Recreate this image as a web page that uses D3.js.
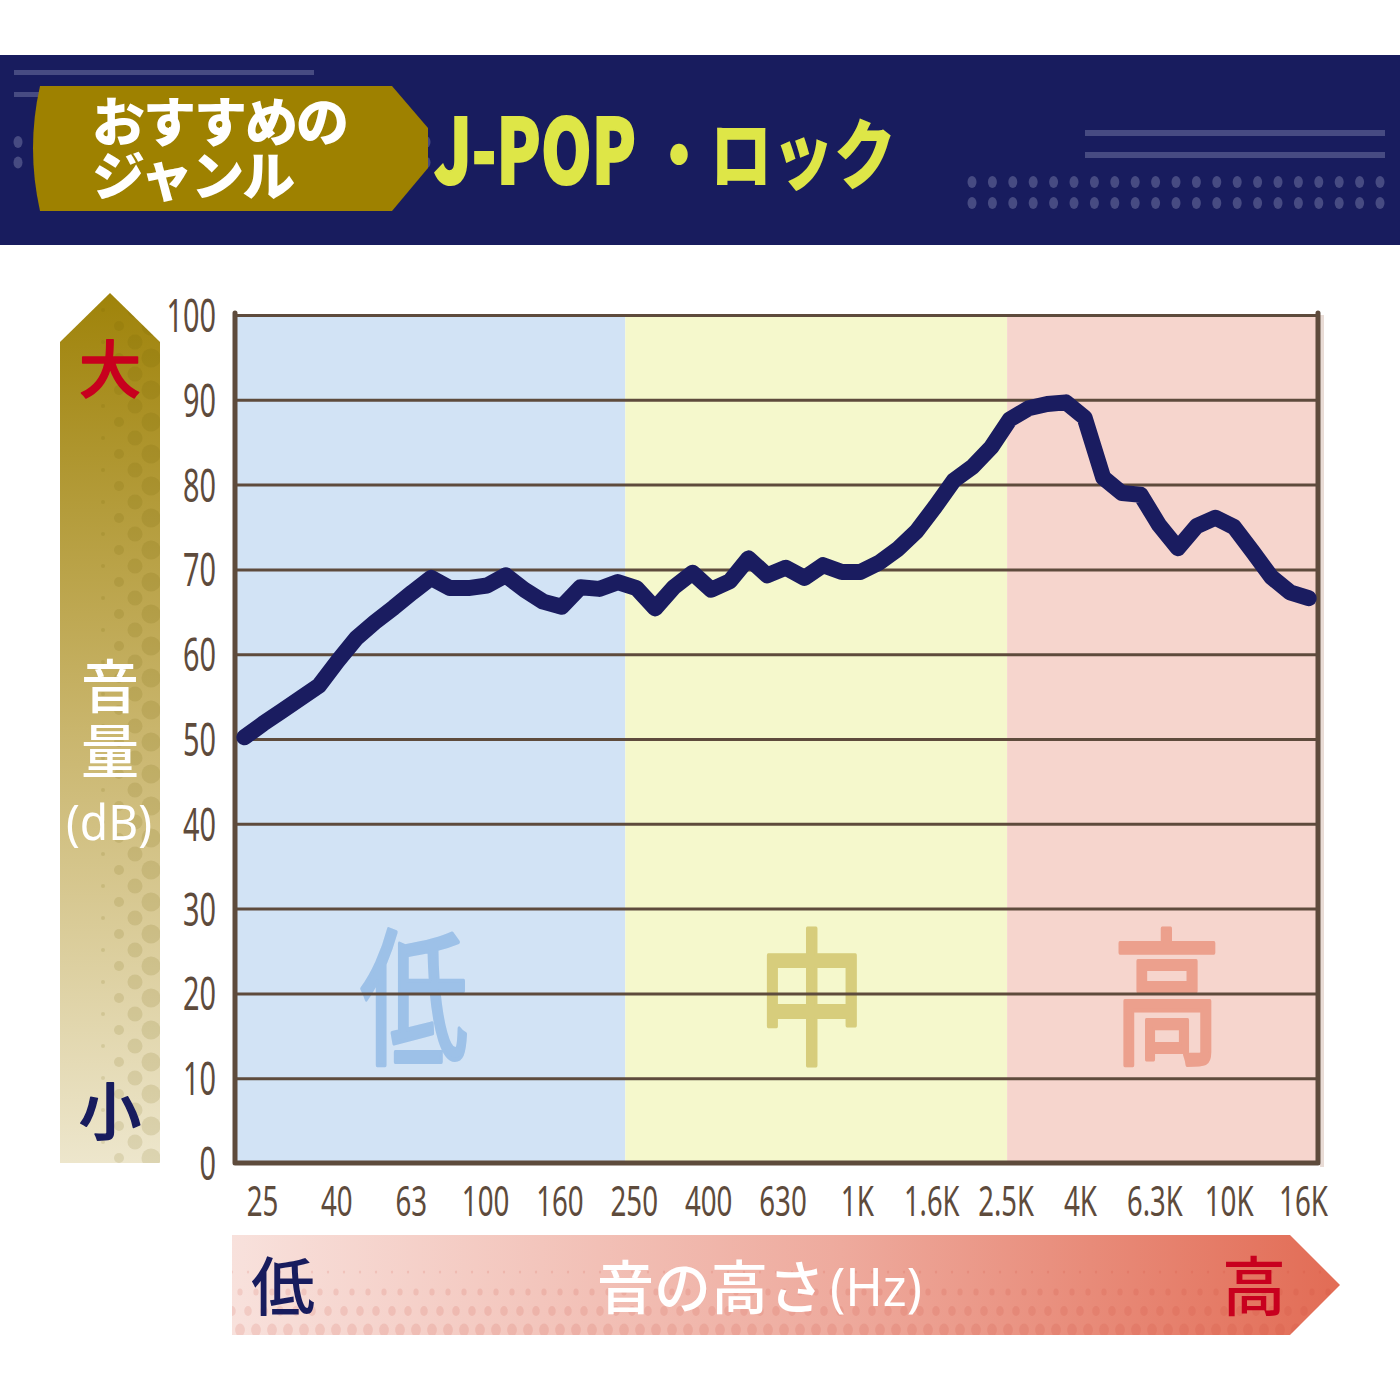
<html>
<head>
<meta charset="utf-8">
<script src="https://cdn.jsdelivr.net/npm/d3@7/dist/d3.min.js"></script>
<style>
body {
	margin: 0;
	background: #fff;
}
svg text {
	font-family: "Noto Sans CJK JP", sans-serif;
}
.num {
	font-family: "Noto Sans", "DejaVu Sans", sans-serif;
}
</style>
</head>
<body>
<svg id="chart" width="1400" height="1400"></svg>
<script>

// データ
var yTicks = [0, 10, 20, 30, 40, 50, 60, 70, 80, 90, 100];
var xLabels = ["25","40","63","100","160","250","400","630","1K","1.6K","2.5K","4K","6.3K","10K","16K"];
// 1/6オクターブごとの音量(dB)
var dbValues = [50.2, 51.8, 53.3, 54.8, 56.3, 59.2, 61.9, 63.8, 65.5, 67.3,
                69.0, 67.8, 67.8, 68.1, 69.3, 67.6, 66.2, 65.6, 67.9, 67.7,
                68.5, 67.8, 65.4, 67.9, 69.6, 67.6, 68.6, 71.3, 69.3, 70.2,
                69.0, 70.5, 69.7, 69.7, 70.8, 72.4, 74.5, 77.4, 80.5, 82.1,
                84.4, 87.7, 89.0, 89.5, 89.7, 87.9, 80.8, 79.0, 78.8, 75.2,
                72.5, 75.1, 76.1, 75.0, 72.1, 69.1, 67.3, 66.6];
var bandNames = ["低", "中", "高"];
var bandBreaks = [-0.5, 20.4, 40.85, 57.5];  // 帯域の境目(データ番号)

var svg = d3.select("#chart");
var plot = {left: 235, right: 1318, top: 315, bottom: 1163};
var brown = "#5e4b3c";
var navy = "#181c5e";

var x = d3.scaleLinear()
    .domain([-0.5, dbValues.length - 0.5])
    .range([plot.left, plot.right]);
var y = d3.scaleLinear()
    .domain([0, 100])
    .range([plot.bottom, plot.top]);
var xl = d3.scalePoint()
    .domain(xLabels)
    .range([262, 1303]);

var defs = svg.append("defs");

// 細い数字の幅
function narrowWidth(s){
    var w = 0;
    for(let c of s){
        if(c == ".") w += 7;
        else if(c == "K") w += 18;
        else w += 16.5;
    }
    return w;
}

drawHeader();
drawGauge();
drawPlot();
drawBottomArrow();

function drawHeader(){
    svg.append("rect")
        .attr("x", 0).attr("y", 55)
        .attr("width", 1400).attr("height", 190)
        .attr("fill", navy);
    var deco = "#474b82";
    // 左の線
    svg.append("rect").attr("x", 14).attr("y", 70).attr("width", 300).attr("height", 5).attr("fill", deco);
    svg.append("rect").attr("x", 14).attr("y", 92).attr("width", 40).attr("height", 5).attr("fill", deco);
    for(let r = 0; r < 2; r++){
        for(let k = 0; k < 21; k++){
            svg.append("ellipse")
                .attr("cx", 18 + k * 20.4).attr("cy", 142 + r * 20.5)
                .attr("rx", 4.5).attr("ry", 6).attr("fill", deco);
        }
    }
    // 右の線と点
    svg.append("rect").attr("x", 1085).attr("y", 130).attr("width", 300).attr("height", 6).attr("fill", deco);
    svg.append("rect").attr("x", 1085).attr("y", 152).attr("width", 300).attr("height", 6).attr("fill", deco);
    for(let r = 0; r < 2; r++){
        for(let k = 0; k < 21; k++){
            svg.append("ellipse")
                .attr("cx", 972 + k * 20.4).attr("cy", 182 + r * 21)
                .attr("rx", 4.5).attr("ry", 6).attr("fill", deco);
        }
    }
    // 金色のタグ
    svg.append("path")
        .attr("d", "M40,86 L392,86 L428,128 L428,168 L392,211 L40,211 Q26,148 40,86 Z")
        .attr("fill", "#9e8100");
    svg.append("text")
        .text("おすすめの")
        .attr("x", 92).attr("y", 142)
        .attr("font-size", 53).attr("font-weight", 900)
        .attr("letter-spacing", -2)
        .attr("fill", "#fff");
    svg.append("text")
        .text("ジャンル")
        .attr("x", 92).attr("y", 196)
        .attr("font-size", 53).attr("font-weight", 900)
        .attr("letter-spacing", -2)
        .attr("fill", "#fff");
    // タイトル
    svg.append("text")
        .text("J-POP")
        .attr("x", 434).attr("y", 184)
        .attr("font-family", "Roboto, 'Noto Sans', sans-serif")
        .attr("font-size", 90).attr("font-weight", 900)
        .attr("textLength", 202)
        .attr("lengthAdjust", "spacingAndGlyphs")
        .attr("stroke", "#dee647").attr("stroke-width", 2)
        .attr("fill", "#dee647");
    svg.append("text")
        .text("・ロック")
        .attr("x", 648).attr("y", 183)
        .attr("font-size", 76).attr("font-weight", 900)
        .attr("textLength", 248)
        .attr("lengthAdjust", "spacingAndGlyphs")
        .attr("fill", "#dee647");
}

function drawGauge(){
    var g = defs.append("linearGradient")
        .attr("id", "gaugeGrad")
        .attr("x1", 0).attr("y1", 0).attr("x2", 0).attr("y2", 1);
    g.append("stop").attr("offset", "0%").attr("stop-color", "#9f830a");
    g.append("stop").attr("offset", "50%").attr("stop-color", "#c9b56c");
    g.append("stop").attr("offset", "100%").attr("stop-color", "#ede6cc");
    defs.append("clipPath").attr("id", "gaugeClip")
        .append("path")
        .attr("d", "M110,293 L160,342 L160,1163 L60,1163 L60,342 Z");
    svg.append("path")
        .attr("d", "M110,293 L160,342 L160,1163 L60,1163 L60,342 Z")
        .attr("fill", "url(#gaugeGrad)");
    // 網点
    var dots = svg.append("g").attr("clip-path", "url(#gaugeClip)");
    var cols = [[103, 2], [119, 5], [135, 7.5], [151, 9.5]];
    for(let c = 0; c < cols.length; c++){
        for(let yy = 310 + (c % 2) * 16; yy < 1170; yy += 32){
            dots.append("circle")
                .attr("cx", cols[c][0]).attr("cy", yy)
                .attr("r", cols[c][1])
                .attr("fill", "#6e5a00").attr("opacity", 0.13);
        }
    }
    svg.append("text").text("大")
        .attr("x", 110).attr("y", 393)
        .attr("text-anchor", "middle")
        .attr("font-size", 62).attr("font-weight", 500)
        .attr("stroke", "#c8001e").attr("stroke-width", 1.5).attr("stroke-linejoin", "round")
        .attr("fill", "#c8001e");
    svg.append("text").text("音")
        .attr("x", 110).attr("y", 708)
        .attr("text-anchor", "middle")
        .attr("font-size", 58).attr("font-weight", 500)
        .attr("fill", "#fff");
    svg.append("text").text("量")
        .attr("x", 110).attr("y", 773)
        .attr("text-anchor", "middle")
        .attr("font-size", 58).attr("font-weight", 500)
        .attr("fill", "#fff");
    svg.append("text").text("(dB)")
        .attr("class", "num")
        .attr("x", 66).attr("y", 840)
        .attr("font-size", 50)
        .attr("textLength", 86)
        .attr("lengthAdjust", "spacingAndGlyphs")
        .attr("fill", "#fff");
    svg.append("text").text("小")
        .attr("x", 110).attr("y", 1135)
        .attr("text-anchor", "middle")
        .attr("font-size", 62).attr("font-weight", 500)
        .attr("stroke", navy).attr("stroke-width", 1.5).attr("stroke-linejoin", "round")
        .attr("fill", navy);
}

function drawPlot(){
    var bandFill = ["#d2e3f5", "#f5f8cc", "#f6d5cd"];
    var charFill = ["#9dc1e8", "#d7cd7c", "#eca08d"];
    var charX = [360, 758, 1113];
    for(let i = 0; i < bandNames.length; i++){
        svg.append("rect")
            .attr("x", x(bandBreaks[i]))
            .attr("y", plot.top)
            .attr("width", x(bandBreaks[i + 1]) - x(bandBreaks[i]))
            .attr("height", plot.bottom - plot.top)
            .attr("fill", bandFill[i]);
        svg.append("text")
            .text(bandNames[i])
            .attr("x", charX[i]).attr("y", 1053)
            .attr("font-size", 148).attr("font-weight", 400)
            .attr("textLength", 108)
            .attr("lengthAdjust", "spacingAndGlyphs")
            .attr("stroke", charFill[i]).attr("stroke-width", 4)
            .attr("stroke-linejoin", "round")
            .attr("fill", charFill[i]);
    }
    // 右側の影
    svg.append("rect")
        .attr("x", plot.right + 2).attr("y", plot.top)
        .attr("width", 4).attr("height", plot.bottom - plot.top + 4)
        .attr("fill", "#e9dcd6");

    // 目盛線
    var gridAxis = svg.append("g")
        .attr("class", "grid")
        .attr("transform", `translate(${plot.left},0)`)
        .call(d3.axisRight(y).tickValues(yTicks).tickSize(plot.right - plot.left).tickFormat(""));
    gridAxis.select(".domain").remove();
    gridAxis.selectAll("line").attr("stroke", brown).attr("stroke-width", 3);

    // 縦軸の数字
    var yAxis = svg.append("g")
        .attr("class", "y-axis")
        .attr("transform", "translate(216,0)")
        .call(d3.axisLeft(y).tickValues(yTicks).tickSize(0).tickPadding(0));
    yAxis.select(".domain").remove();
    yAxis.selectAll("text")
        .attr("class", "num")
        .attr("font-size", 46)
        .attr("fill", brown)
        .attr("dy", "0.36em")
        .attr("textLength", function(d){ return narrowWidth(String(d)); })
        .attr("lengthAdjust", "spacingAndGlyphs");

    // 横軸の数字
    var xAxis = svg.append("g")
        .attr("class", "x-axis")
        .attr("transform", "translate(0,1216)")
        .call(d3.axisBottom(xl).tickSize(0).tickPadding(0));
    xAxis.select(".domain").remove();
    xAxis.selectAll("text")
        .attr("class", "num")
        .attr("font-size", 42)
        .attr("fill", brown)
        .attr("dy", 0)
        .attr("textLength", function(d){ return narrowWidth(d) * 0.96; })
        .attr("lengthAdjust", "spacingAndGlyphs");

    // 枠
    svg.append("path")
        .attr("d", `M${plot.left},${plot.top - 2} L${plot.left},${plot.bottom} L${plot.right},${plot.bottom} L${plot.right},${plot.top - 2}`)
        .attr("fill", "none")
        .attr("stroke", brown)
        .attr("stroke-width", 5)
        .attr("stroke-linejoin", "round")
        .attr("stroke-linecap", "round");

    // 折れ線
    var line = d3.line()
        .x(function(d, i){ return x(i); })
        .y(function(d){ return y(d); });
    svg.append("path")
        .datum(dbValues)
        .attr("d", line)
        .attr("fill", "none")
        .attr("stroke", "#1a1c60")
        .attr("stroke-width", 16)
        .attr("stroke-linejoin", "round")
        .attr("stroke-linecap", "round");
}

function drawBottomArrow(){
    var g = defs.append("linearGradient")
        .attr("id", "arrowGrad")
        .attr("x1", 0).attr("y1", 0).attr("x2", 1).attr("y2", 0);
    g.append("stop").attr("offset", "0%").attr("stop-color", "#f8e1dc");
    g.append("stop").attr("offset", "55%").attr("stop-color", "#eeaa9d");
    g.append("stop").attr("offset", "100%").attr("stop-color", "#e26c55");
    var shape = "M232,1235 L1290,1235 L1340,1285 L1290,1335 L232,1335 Z";
    defs.append("clipPath").attr("id", "arrowClip")
        .append("path").attr("d", shape);
    svg.append("path").attr("d", shape).attr("fill", "url(#arrowGrad)");
    var dots = svg.append("g").attr("clip-path", "url(#arrowClip)");
    var rows = [[1272, 1.5], [1292, 3.5], [1311, 5], [1330, 6.5]];
    for(let r = 0; r < rows.length; r++){
        for(let xx = 232 + (r % 2) * 8; xx < 1345; xx += 16){
            dots.append("ellipse")
                .attr("cx", xx).attr("cy", rows[r][0])
                .attr("rx", rows[r][1] * 0.75).attr("ry", rows[r][1])
                .attr("fill", "#c8402c").attr("opacity", 0.13);
        }
    }
    svg.append("text").text("低")
        .attr("x", 283).attr("y", 1310)
        .attr("text-anchor", "middle")
        .attr("font-size", 64).attr("font-weight", 500)
        .attr("fill", navy);
    svg.append("text").text("音の高さ")
        .attr("x", 597).attr("y", 1309)
        .attr("font-size", 58).attr("font-weight", 500)
        .attr("textLength", 228)
        .attr("lengthAdjust", "spacingAndGlyphs")
        .attr("fill", "#fff");
    svg.append("text").text("(Hz)")
        .attr("class", "num")
        .attr("x", 830).attr("y", 1306)
        .attr("font-size", 52)
        .attr("textLength", 92)
        .attr("lengthAdjust", "spacingAndGlyphs")
        .attr("fill", "#fff");
    svg.append("text").text("高")
        .attr("x", 1254).attr("y", 1310)
        .attr("text-anchor", "middle")
        .attr("font-size", 64).attr("font-weight", 500)
        .attr("fill", "#c8001e");
}
</script>
</body>
</html>
